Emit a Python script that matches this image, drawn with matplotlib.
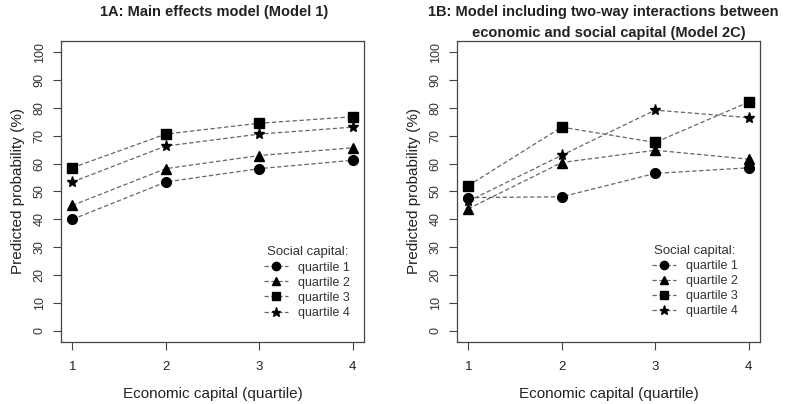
import matplotlib
matplotlib.use('Agg')
import matplotlib.pyplot as plt

plt.rcParams['font.family'] = ['Liberation Sans', 'DejaVu Sans']

# Datos
econ_q = [1, 2, 3, 4]
labels = ['quartile 1', 'quartile 2', 'quartile 3', 'quartile 4']

m1_q1 = [40.0, 53.4, 58.2, 61.2]
m1_q2 = [45.0, 58.2, 62.9, 65.7]
m1_q3 = [58.5, 70.6, 74.5, 76.8]
m1_q4 = [53.4, 66.3, 70.6, 73.1]

m2_q1 = [47.8, 48.1, 56.5, 58.5]
m2_q2 = [43.8, 60.4, 64.8, 61.6]
m2_q3 = [52.1, 73.1, 67.6, 82.1]
m2_q4 = [46.5, 63.0, 79.2, 76.5]

markers = ['o', '^', 's', '*']
msizes = [7, 7.5, 6.5, 8]

W, H = 790, 404
fig = plt.figure(figsize=(W / 100, H / 100), dpi=100)
ax1 = fig.add_axes([0.0772, 0.1535, 0.3835, 0.745])
ax2 = fig.add_axes([0.5785, 0.1535, 0.3835, 0.745])

GRIS = '#444444'

def panel(ax, series, leg_anchor):
    for vals, mk, ms, lab in zip(series, markers, msizes, labels):
        ax.plot(econ_q, vals, linestyle=(0, (3.5, 2)), color='#666666', linewidth=0.9,
                marker=mk, markersize=ms, markerfacecolor='black',
                markeredgecolor='black', label=lab)
    ax.set_xlim(0.88, 4.12)
    ax.set_ylim(-4, 104)
    ax.set_xticks(econ_q)
    ax.set_yticks(range(0, 101, 10))
    ax.tick_params(axis='y', labelrotation=90, length=6, width=0.8, color=GRIS,
                   labelsize=9, labelcolor='#333333', pad=5)
    ax.tick_params(axis='x', length=6, width=0.8, color=GRIS,
                   labelsize=9.5, labelcolor='#222222', pad=8)
    for lbl in ax.get_yticklabels():
        lbl.set_va('center')
    for sp in ax.spines.values():
        sp.set_color(GRIS)
        sp.set_linewidth(0.9)
    ax.set_ylabel('Predicted probability (%)', fontsize=11, color='#222222', labelpad=6)
    ax.set_xlabel('Economic capital (quartile)', fontsize=11, color='#222222', labelpad=10)
    leg = ax.legend(loc='lower left', bbox_to_anchor=leg_anchor, frameon=False,
                    title='Social capital:', fontsize=9, title_fontsize=9.5,
                    handlelength=1.9, handletextpad=0.8, labelspacing=0.25,
                    markerscale=0.85, borderaxespad=0)
    leg.get_title().set_color('#333333')
    for t in leg.get_texts():
        t.set_color('#333333')

panel(ax1, [m1_q1, m1_q2, m1_q3, m1_q4], (0.655, 0.06))
panel(ax2, [m2_q1, m2_q2, m2_q3, m2_q4], (0.628, 0.065))

# Titulos
fig.text(214 / W, 1 - 12 / H, '1A: Main effects model (Model 1)',
         ha='center', va='center', fontsize=10.5, fontweight='bold', color='#222222')
fig.text(603 / W, 1 - 12 / H, '1B: Model including two-way interactions between',
         ha='center', va='center', fontsize=10.5, fontweight='bold', color='#222222')
fig.text(609 / W, 1 - 33 / H, 'economic and social capital (Model 2C)',
         ha='center', va='center', fontsize=10.5, fontweight='bold', color='#222222')

fig.savefig('out.png', dpi=100, facecolor='white')
